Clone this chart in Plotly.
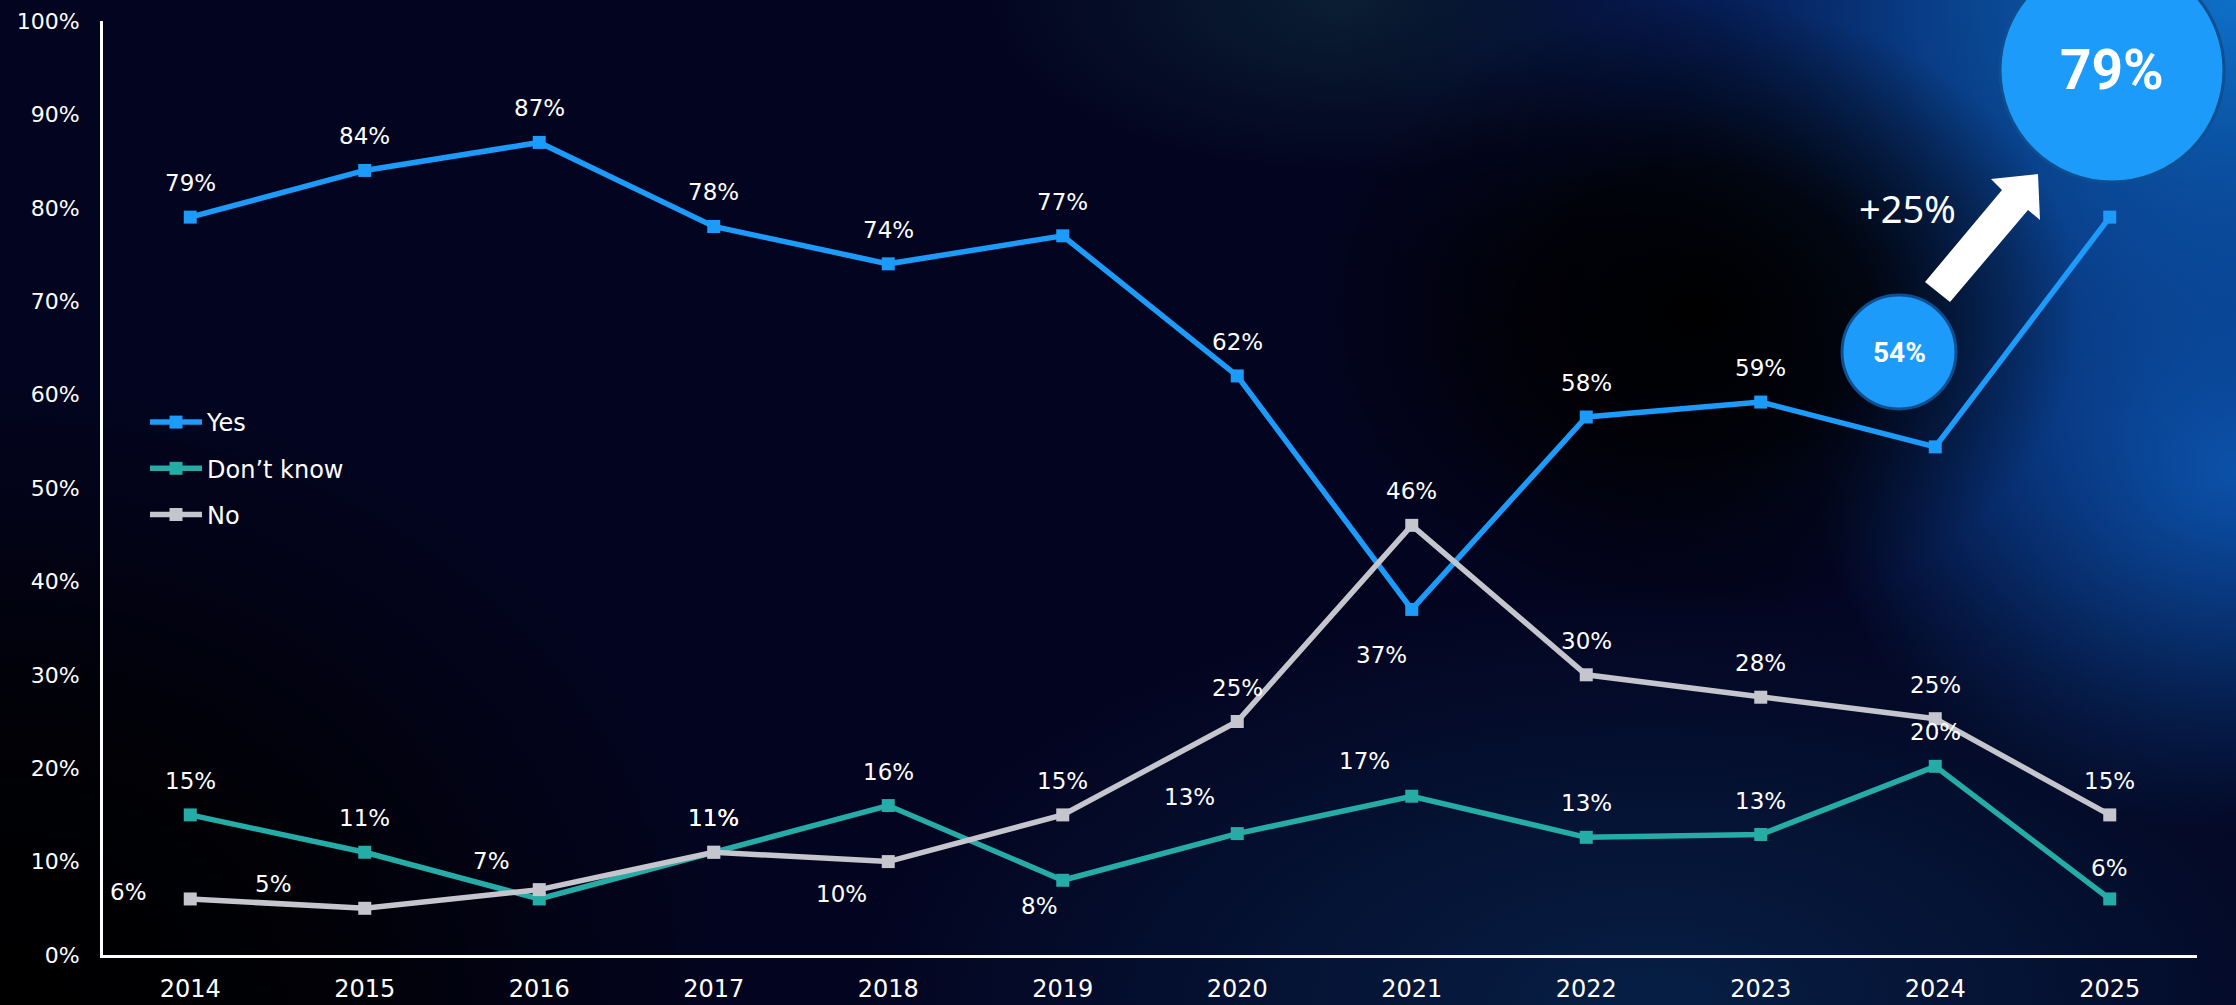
import base64
import plotly.graph_objects as go

# ---------------- data ----------------
years = ["2014", "2015", "2016", "2017", "2018", "2019", "2020", "2021", "2022", "2023", "2024", "2025"]
yes = [79, 84, 87, 78, 74, 77, 62, 37, 57.6, 59.2, 54.4, 79]
dont_know = [15, 11, 6, 11, 16, 8, 13, 17, 12.6, 12.9, 20.2, 6]
no = [6, 5, 7, 11, 10, 15, 25, 46, 30, 27.6, 25.3, 15]
y_ticks = [0, 10, 20, 30, 40, 50, 60, 70, 80, 90, 100]
change_label = "+25%"

# label offsets in pixels (dx, dy-up); None = no label
UP = (0, 34)
yes_off = [UP, UP, UP, UP, UP, UP, UP, (-30, -46), UP, UP, None, None]
dk_off = [UP, UP, None, UP, UP, (-23, -26), (-48, 37), (-47, 35), UP, UP, UP, (0, 31)]
no_off = [(-62, 7), (-91, 24), (-48, 29), UP, (-47, -32), UP, UP, UP, UP, UP, UP, UP]

# ---------------- geometry ----------------
W, H = 2236, 1005
ML, MR, MT, MB = 103, 39, 21, 50
PW, PH = W - ML - MR, H - MT - MB


def px(x):
    return (x - ML) / PW


def py(y):
    return (H - MB - y) / PH


C_YES = "#1d9bfb"
C_DK = "#26aca6"
C_NO = "#c5c5cd"
FONT = "DejaVu Sans"

# ---------------- background (svg gradients) ----------------
svg = f"""<svg xmlns='http://www.w3.org/2000/svg' width='{W}' height='{H}' viewBox='0 0 {W} {H}'>
<defs>
<radialGradient id='tr'><stop offset='0' stop-color='#0e70c8'/><stop offset='0.35' stop-color='#0a4798' stop-opacity='0.85'/><stop offset='0.7' stop-color='#06216a' stop-opacity='0.45'/><stop offset='1' stop-color='#03051f' stop-opacity='0'/></radialGradient>
<radialGradient id='rm'><stop offset='0' stop-color='#0c58b4' stop-opacity='0.9'/><stop offset='1' stop-color='#0c58b4' stop-opacity='0'/></radialGradient>
<radialGradient id='bt'><stop offset='0' stop-color='#082a55' stop-opacity='0.7'/><stop offset='1' stop-color='#082a55' stop-opacity='0'/></radialGradient>
<radialGradient id='tc'><stop offset='0' stop-color='#0d2a3c' stop-opacity='0.7'/><stop offset='1' stop-color='#0d2a3c' stop-opacity='0'/></radialGradient>
<radialGradient id='blob'><stop offset='0' stop-color='#000000' stop-opacity='1'/><stop offset='0.45' stop-color='#000000' stop-opacity='0.8'/><stop offset='1' stop-color='#000000' stop-opacity='0'/></radialGradient>
<radialGradient id='bl'><stop offset='0' stop-color='#000000' stop-opacity='1'/><stop offset='0.45' stop-color='#000000' stop-opacity='0.8'/><stop offset='1' stop-color='#000000' stop-opacity='0'/></radialGradient>
</defs>
<rect x='0' y='0' width='{W}' height='{H}' fill='#03041f'/>
<ellipse cx='1350' cy='0' rx='380' ry='180' fill='url(#tc)'/>
<ellipse cx='2236' cy='0' rx='900' ry='760' fill='url(#tr)'/>
<ellipse cx='2236' cy='470' rx='420' ry='360' fill='url(#rm)'/>
<ellipse cx='1650' cy='1005' rx='820' ry='430' fill='url(#bt)'/>
<ellipse cx='1700' cy='310' rx='380' ry='310' fill='url(#blob)'/>
<ellipse cx='0' cy='1005' rx='720' ry='620' fill='url(#bl)'/>
</svg>"""
bg_src = "data:image/svg+xml;base64," + base64.b64encode(svg.encode()).decode()

# ---------------- figure ----------------
fig = go.Figure()
series = [("Yes", yes, C_YES, yes_off), ("Don\u2019t know", dont_know, C_DK, dk_off), ("No", no, C_NO, no_off)]
for i, (name, vals, col, _) in enumerate(series):
    fig.add_trace(go.Scatter(
        x=years, y=vals, name=name, mode="lines+markers",
        line=dict(color=col, width=5.5),
        marker=dict(symbol="square", size=13, color=col),
        legendgroup=f"g{i}", hoverinfo="skip",
    ))

annotations = []
for name, vals, col, offs in series:
    for idx, (v, off) in enumerate(zip(vals, offs)):
        if off is None:
            continue
        annotations.append(dict(
            x=idx, y=v, xref="x", yref="y", text=f"{v:.0f}%", showarrow=False,
            xshift=off[0], yshift=off[1], xanchor="center", yanchor="middle",
            font=dict(family=FONT, size=23, color="white"),
        ))

# highlight circles and arrow
c54 = (1899, 352, 57)
c79 = (2112, 70, 112)
shapes = []
for cx, cy, r in (c54, c79):
    shapes.append(dict(
        type="circle", xref="paper", yref="paper", layer="above",
        x0=px(cx - r), x1=px(cx + r), y0=py(cy + r), y1=py(cy - r),
        fillcolor=C_YES, line=dict(color="#0d4f90", width=3),
    ))
arrow_pts = [(1925, 282), (2002, 190), (1991, 179), (2038, 174), (2040, 220), (2028, 210), (1950, 302)]
path = "M " + " L ".join(f"{px(x)},{py(y)}" for x, y in arrow_pts) + " Z"
shapes.append(dict(type="path", xref="paper", yref="paper", path=path, layer="above",
                   fillcolor="white", line=dict(width=0)))

annotations.append(dict(x=px(c54[0]), y=py(c54[1]), xref="paper", yref="paper",
                        xanchor="center", yanchor="middle",
                        text=f"<b>{yes[10]:.0f}%</b>", showarrow=False,
                        font=dict(family="Roboto", size=28, color="white")))
annotations.append(dict(x=px(c79[0]), y=py(c79[1]), xref="paper", yref="paper",
                        xanchor="center", yanchor="middle",
                        text=f"<b>{yes[11]:.0f}%</b>", showarrow=False,
                        font=dict(family="Roboto", size=55, color="white")))
annotations.append(dict(x=px(1907), y=py(208), xref="paper", yref="paper",
                        xanchor="center", yanchor="middle",
                        text=change_label, showarrow=False,
                        font=dict(family="Noto Sans", size=38, color="white")))

fig.update_layout(
    width=W, height=H, autosize=False,
    margin=dict(l=ML, r=MR, t=MT, b=MB, pad=0, autoexpand=False),
    paper_bgcolor="#03041f", plot_bgcolor="rgba(0,0,0,0)",
    font=dict(family=FONT, size=24, color="white"),
    showlegend=True,
    legend=dict(x=px(145), y=py(400), xanchor="left", yanchor="top",
                bgcolor="rgba(0,0,0,0)", font=dict(family=FONT, size=24, color="white"),
                traceorder="grouped", tracegroupgap=12, itemwidth=52),
    xaxis=dict(type="category", range=[-0.5, len(years) - 0.5], showgrid=False, zeroline=False,
               showline=True, linecolor="white", linewidth=3, ticks="", ticklabelstandoff=10,
               automargin=False,
               tickfont=dict(family=FONT, size=24, color="white"), fixedrange=True),
    yaxis=dict(range=[0, 100], tickmode="array", tickvals=y_ticks,
               ticktext=[f"{t}%" for t in y_ticks], showgrid=False, zeroline=False,
               showline=True, linecolor="white", linewidth=3, ticks="", ticklabelstandoff=16,
               automargin=False,
               tickfont=dict(family=FONT, size=22, color="white"), fixedrange=True),
    images=[dict(source=bg_src, xref="paper", yref="paper", x=px(0), y=py(0),
                 sizex=W / PW, sizey=H / PH, sizing="stretch", xanchor="left", yanchor="top",
                 layer="below")],
    shapes=shapes,
    annotations=annotations,
    hovermode=False,
)

fig.write_html(
    "out.html",
    config={"displayModeBar": False},
    post_script="document.body.style.margin='0';document.body.style.overflow='hidden';",
)
